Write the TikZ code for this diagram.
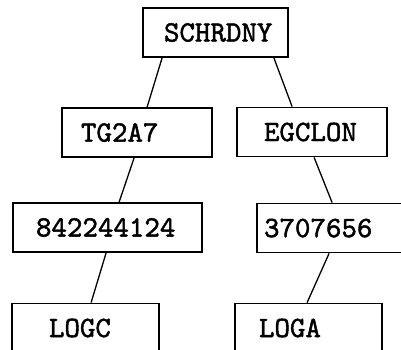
\documentclass[tikz,border=0pt]{standalone}
\usepackage{fontspec}
\newfontfamily\cardfont[FakeBold=1.6]{lmmono10-regular.otf}
\usepackage{tikz}
\usetikzlibrary{positioning}

\begin{document}
\begin{tikzpicture}[
  x=1pt,y=-1pt,
  card/.style={
    draw,line width=1.8pt,inner sep=0pt,
    minimum height=49pt,text width=#1,align=left,
    font=\cardfont\fontsize{29.5}{32}\selectfont
  },
  link/.style={line width=1.3pt}
]
\clip (0,0) rectangle (401,350);

% ---- top of the tree ----
\node[card=145pt] (root) at (215.5,32.5) {\hspace*{21pt}SCHRDNY};

% ---- second level ----
\node[card=150pt] (tg) at (137,132.5) {\hspace*{19pt}TG2A7};
\node[card=150pt] (eg) at (312,132)   {\hspace*{27pt}EGCLON};

% ---- third level (right box runs off the page) ----
\node[card=189pt] (n1) at (107.5,227.5) {\hspace*{23pt}842244124};
\node[card=153pt] (n2) at (333.5,228)   {\hspace*{7pt}3707656};

% ---- leaves ----
\node[card=147pt] (logc) at (85.5,328)  {\hspace*{37pt}LOGC};
\node[card=147pt] (loga) at (308.5,328) {\hspace*{24pt}LOGA};

% ---- links between levels ----
\draw[link] ([xshift=20pt]root.south west) -- ([xshift=86pt]tg.north west);
\draw[link] ([xshift=-15pt]root.south east) -- ([xshift=56pt]eg.north west);
\draw[link] ([xshift=73pt]tg.south west) -- ([xshift=107pt]n1.north west);
\draw[link] ([xshift=78pt]eg.south west) -- ([xshift=76pt]n2.north west);
\draw[link] ([xshift=94pt]n1.south west) -- ([xshift=80pt]logc.north west);
\draw[link] ([xshift=73pt]n2.south west) -- ([xshift=73pt]loga.north west);

\end{tikzpicture}
\end{document}
